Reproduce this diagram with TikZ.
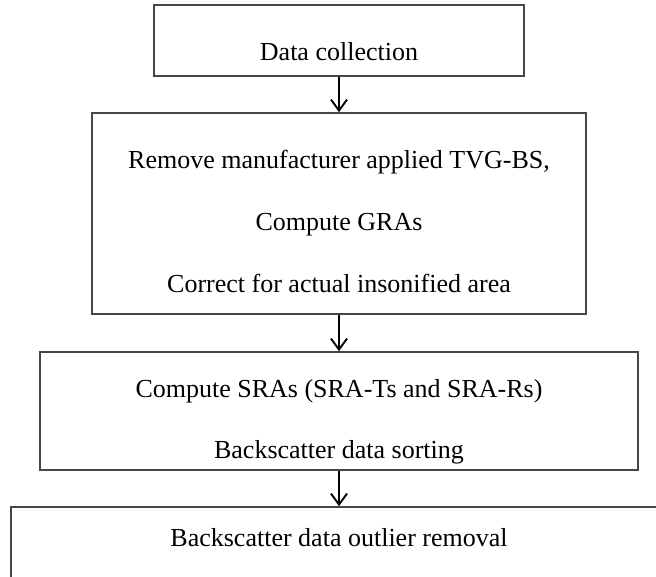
\documentclass[tikz,border=0pt]{standalone}
\usepackage{fontspec}
\setmainfont{Liberation Serif}
\usetikzlibrary{arrows.meta}
\begin{document}
\begin{tikzpicture}[x=1pt,y=-1pt,
  stepbox/.style={draw=black!72, line width=1.6pt, rectangle, inner sep=0pt},
  txt/.style={anchor=base, inner sep=0pt, font=\fontsize{26}{30}\selectfont},
  flow/.style={draw=black, line width=1.9pt, -{Straight Barb[length=11pt,width=16pt,line width=1.9pt]}}]
\useasboundingbox (0,0) rectangle (656,576);
\begin{scope}
\clip (0,0) rectangle (656,576);
\node[stepbox, minimum width=370pt, minimum height=71pt] (b1) at (339,40.5) {};
\node[stepbox, minimum width=494pt, minimum height=201pt] (b2) at (339,213.5) {};
\node[stepbox, minimum width=598pt, minimum height=118pt] (b3) at (339,411) {};
\node[stepbox, minimum width=656pt, minimum height=100pt] (b4) at (339,557) {};
\end{scope}
\node[txt] (t1) at (339,60) {Data collection};
\node[txt] (t2) at (339,168) {Remove manufacturer applied TVG-BS,};
\node[txt] (t3) at (339,230) {Compute GRAs};
\node[txt] (t4) at (339,292) {Correct for actual insonified area};
\node[txt] (t5) at (339,397) {Compute SRAs (SRA-Ts and SRA-Rs)};
\node[txt] (t6) at (339,458) {Backscatter data sorting};
\node[txt] (t7) at (339,546) {Backscatter data outlier removal};
\draw[flow] (b1.south) -- (b2.north);
\draw[flow] (b2.south) -- (b3.north);
\draw[flow] (b3.south) -- (b4.north);
\end{tikzpicture}
\end{document}
